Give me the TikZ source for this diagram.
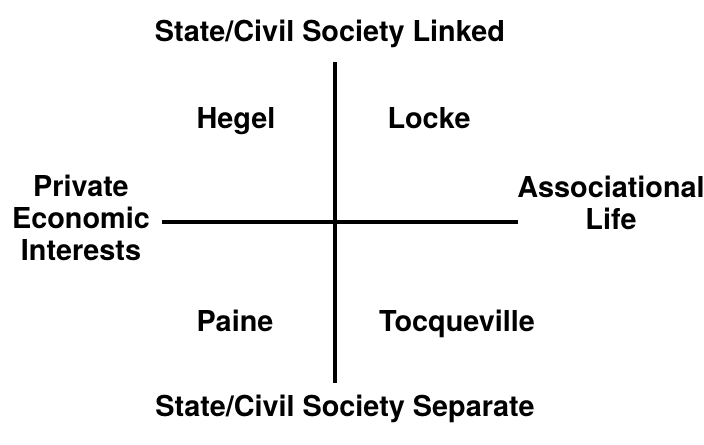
\documentclass[tikz,border=0pt]{standalone}
\usepackage{fontspec}
\setmainfont{TeX Gyre Heros}
\usepackage{tikz}
\usetikzlibrary{positioning}

\begin{document}
\begin{tikzpicture}[
  x=0.02cm, y=-0.02cm,
  heading/.style={font=\fontsize{16.4}{18}\selectfont\bfseries, inner sep=0pt, align=center},
  thinker/.style={heading, text height=0.72em, text depth=0pt},
  axis/.style={line width=1.8pt}
]
 \useasboundingbox (0,0) rectangle (704,444);

 % Axes
 \coordinate (top) at (335,62);
 \coordinate (bot) at (335,383);
 \coordinate (lft) at (162,222);
 \coordinate (rgt) at (518,222);
 \draw[axis] (top) -- (bot);
 \draw[axis] (lft) -- (rgt);

 % Axis labels
 \node[thinker] (linked) at (330,35) {State/Civil Society Linked};
 \node[thinker] (separate) at (345,410) {State/Civil Society Separate};
 \node[heading] (private) at (81,218) {Private\\Economic\\Interests};
 \node[heading] (assoc) at (611,203) {Associational\\Life};

 % Quadrants
 \node[thinker] (hegel) at (236,122) {Hegel};
 \node[thinker] (locke) at (429,122) {Locke};
 \node[thinker] (paine) at (235,325) {Paine};
 \node[thinker] (tocq) at (457,325) {Tocqueville};
\end{tikzpicture}
\end{document}
